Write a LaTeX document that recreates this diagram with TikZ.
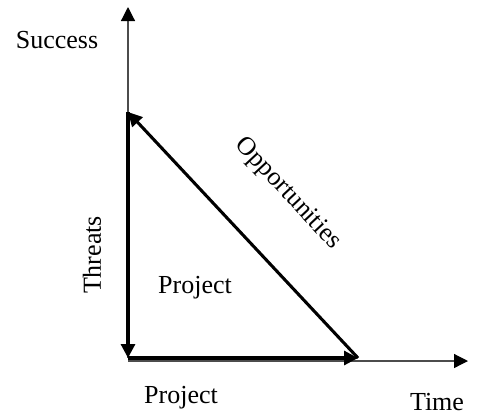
\documentclass[tikz,border=0pt]{standalone}
\usepackage{fontspec}
\setmainfont{Liberation Serif}
\usetikzlibrary{arrows.meta}

\begin{document}
\begin{tikzpicture}[x=0.75pt,y=-0.75pt,>={Triangle[length=10.5pt,width=10.5pt]},font=\fontsize{19.5}{22}\selectfont]
	  \useasboundingbox (0,0) rectangle (491,419);
	  \coordinate (O) at (128,358);
	  \coordinate (S) at (128,7);
	  \coordinate (T) at (468,361);
	  \coordinate (A) at (128,112);
	  \coordinate (B) at (358,358);
	  \node (success) at (57,40) {Success};
	  \node (time) at (437,402) {Time};
	  \node (proj1) at (195,288) {Project};
	  \node (proj2) at (181,398) {Project};
	  \node (threats) [rotate=90] at (92,255) {Threats};
	  \node (opp) [rotate=-47] at (288,194) {Opportunities};
	  % axes
	  \draw[-{Triangle[length=10.5pt,width=10.5pt,color=black]},line width=0.9pt,black!70] (O) -- (S);
	  \draw[-{Triangle[length=10.5pt,width=10.5pt,color=black]},line width=0.9pt,black!70] (O |- T) -- (T);
	  % triangle
	  \draw[->,line width=2.3pt] (A) -- (O);
	  \draw[->,line width=2.3pt] (O) -- (B);
	  \draw[->,line width=2.3pt] (B) -- (A);
	\end{tikzpicture}
\end{document}
